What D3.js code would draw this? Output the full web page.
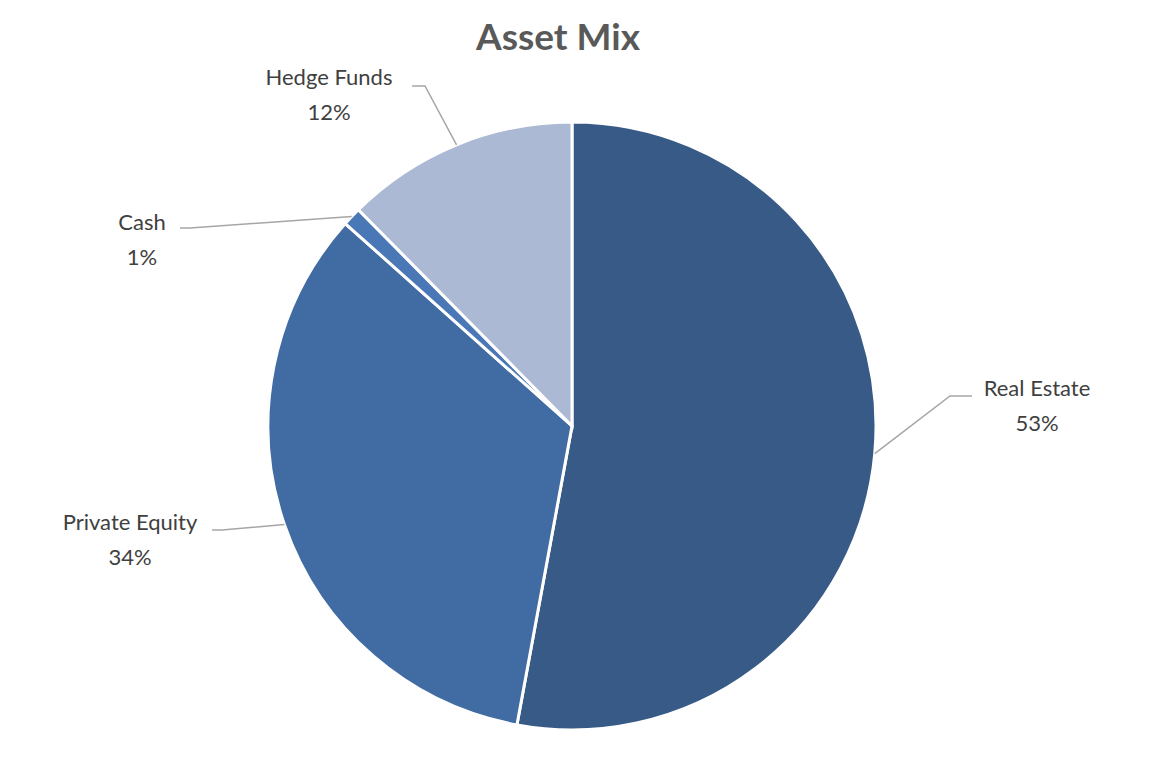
<!DOCTYPE html>
<html><head><meta charset="utf-8">
<script src="https://cdn.jsdelivr.net/npm/d3@7"></script>
<style>body{margin:0;background:#fff}</style></head>
<body><svg id="c" width="1150" height="758"></svg>
<script>
const categories = ["Real Estate", "Private Equity", "Cash", "Hedge Funds"];
const values = [52.9, 33.7, 1.0, 12.4];
const pctLabels = ["53%", "34%", "1%", "12%"];
const colors = ["#375a86", "#416ba3", "#4a78b6", "#abb9d4"];
// label layout: text center and leader line elbow
const labelPos = [[1037, 388, 950, 396, 972], [130, 522, 222, 530, 212], [142, 222, 190, 228, 180], [329, 77, 425, 86, 412]];

const svg = d3.select("#c");
const cx = 572, cy = 426, r = 304;
svg.append("text").attr("x", 558).attr("y", 50).attr("text-anchor", "middle")
  .attr("font-family", "Lato, sans-serif").attr("font-weight", "bold").attr("font-size", 37)
  .attr("fill", "#595959").text("Asset Mix");
const pie = d3.pie().sort(null)(values);
const arc = d3.arc().innerRadius(0).outerRadius(r);
const g = svg.append("g").attr("transform", `translate(${cx},${cy})`);
g.selectAll("path").data(pie).join("path").attr("d", arc)
  .attr("fill", (d, i) => colors[i]).attr("stroke", "#fff").attr("stroke-width", 3);
pie.forEach((d, i) => {
  const a = (d.startAngle + d.endAngle) / 2;
  const px = cx + Math.sin(a) * r, py = cy - Math.cos(a) * r;
  const [tx, ty, ex, ey, hx] = labelPos[i];
  svg.append("polyline").attr("points", `${px},${py} ${ex},${ey} ${hx},${ey}`)
    .attr("fill", "none").attr("stroke", "#a6a6a6").attr("stroke-width", 1.5);
  const t = svg.append("text").attr("text-anchor", "middle").attr("font-family", "Lato, sans-serif")
    .attr("font-size", 22).attr("fill", "#404040");
  t.append("tspan").attr("x", tx).attr("y", ty + 8).text(categories[i]);
  t.append("tspan").attr("x", tx).attr("y", ty + 43).text(pctLabels[i]);
});
</script></body></html>
